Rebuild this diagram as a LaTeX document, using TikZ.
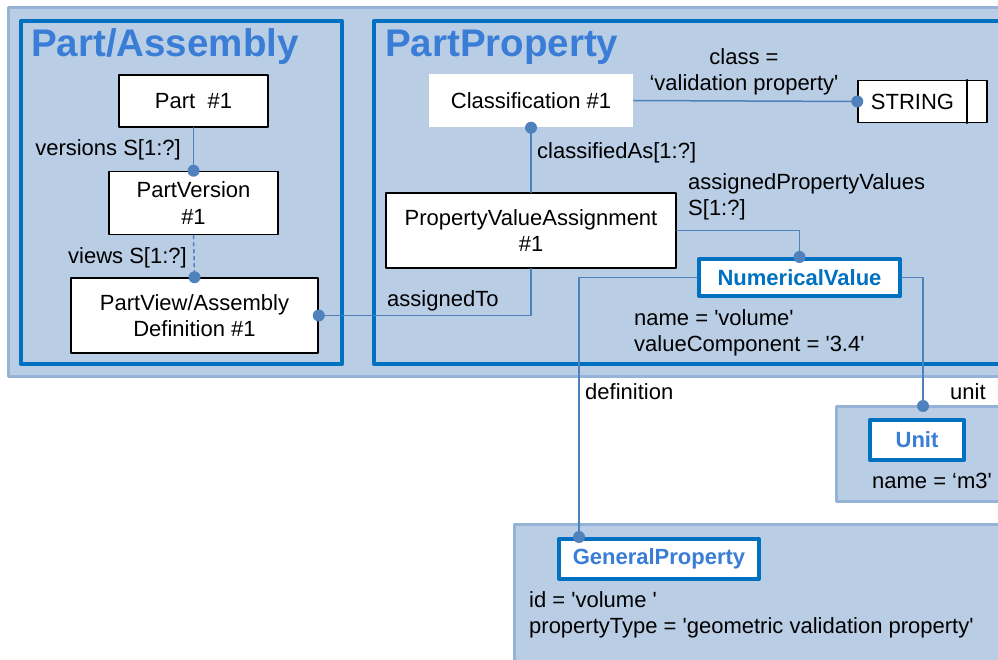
\documentclass[tikz,border=0pt]{standalone}
\usepackage{fontspec}
\setmainfont{Liberation Sans}
\definecolor{frameblue}{RGB}{0,112,192}
\definecolor{titleblue}{RGB}{58,125,214}
\definecolor{linkblue}{RGB}{79,129,189}
\definecolor{grpfill}{RGB}{185,205,229}
\definecolor{grpedge}{RGB}{149,179,215}
\tikzset{
  txt/.style={font=\fontsize{22}{26.5}\selectfont},
  grpframe/.style={draw=grpedge, fill=grpfill, line width=3pt},
  secframe/.style={draw=frameblue, line width=4pt},
  titletxt/.style={font=\fontsize{38.5}{40}\selectfont\bfseries, text=titleblue, inner sep=0pt},
  clsbox/.style={txt, draw=black, fill=white, line width=1.5pt, inner sep=0pt, align=center},
  entbox/.style={font=\fontsize{22}{26.5}\selectfont\bfseries, draw=frameblue, fill=white, line width=4pt, inner sep=0pt},
  lnk/.style={draw=linkblue, line width=1.5pt},
  lbl/.style={txt, inner sep=0pt, align=left},
}
\begin{document}
\begin{tikzpicture}[x=1pt,y=-1pt,line cap=round,line join=round]
  \useasboundingbox (0,0) rectangle (998,660);
  \clip (0,0) rectangle (998,660);
  \draw[grpframe] (8,8) rectangle (1010,376);
  \draw[secframe] (21,21) rectangle (342,364);
  \draw[secframe] (374,21) rectangle (1010,364);
  \draw[grpframe] (836,406) rectangle (1010,501);
  \draw[grpframe] (514,524) rectangle (1010,680);
  \node[titletxt, anchor=base west] (tpa) at (31,57) {Part/Assembly};
  \node[titletxt, anchor=base west] (tpp) at (385,57) {PartProperty};
  \node[clsbox, minimum width=149, minimum height=52] (part) at (193.5,101) {Part~~\#1};
  \node[clsbox, minimum width=169, minimum height=63] (pver) at (193.5,203) {PartVersion\\\#1};
  \node[clsbox, minimum width=247, minimum height=75] (pview) at (194.5,315.5) {PartView/Assembly\\Definition \#1};
  \node[clsbox, draw=none, minimum width=204, minimum height=53] (clsf) at (531,100.5) {Classification \#1};
  \node[clsbox, minimum width=290, minimum height=75] (pva) at (531,230.5) {PropertyValueAssignment\\\#1};
  \node[clsbox, minimum width=129, minimum height=42] (str) at (922.5,101.5) {STRING\hspace{20pt}};
  \draw[line width=1.5pt] ([xshift=-21pt]str.north east) -- ([xshift=-21pt]str.south east);
  \node[entbox, text=frameblue, minimum width=201, minimum height=37] (nval) at (799.5,277.5) {NumericalValue};
  \node[entbox, text=titleblue, minimum width=94, minimum height=40] (unit) at (917,440) {Unit};
  \node[entbox, text=titleblue, minimum width=200, minimum height=40] (gprop) at (659,559) {GeneralProperty};
  \coordinate (unitin) at (923,406);
  \coordinate (gpin) at ([xshift=-80pt]gprop.north);
  \draw[lnk] (part.south) -- (pver.north);
  \draw[lnk, line cap=butt, dash pattern=on 4pt off 3pt] (pver.south) -- (pview.north);
  \draw[lnk] (pview.east) -| (pva.south);
  \draw[lnk] (clsf.south) -- (pva.north);
  \draw[lnk] (clsf.east) -- (str.west);
  \draw[lnk] (pva.east) -| (nval.north);
  \draw[lnk] (nval.west) -| (gpin);
  \draw[lnk] (nval.east) -| (unitin);
  \foreach \p in {pver.north, pview.north, pview.east, clsf.south, str.west, nval.north, unitin, gpin}
    \fill[linkblue] (\p) circle (6pt);
  \node[lbl, anchor=east] (lver) at (181,150) {versions S[1:?]};
  \node[lbl, anchor=east] (lviews) at (187,258) {views S[1:?]};
  \node[lbl, anchor=west] (lassto) at (387,301) {assignedTo};
  \node[lbl, anchor=west] (lclsas) at (537,153) {classifiedAs[1:?]};
  \node[lbl, align=center] (lclass) at (744,72) {class =\\‘validation property\textquotesingle};
  \node[lbl, anchor=west] (lapv) at (688,197) {assignedPropertyValues\\S[1:?]};
  \node[lbl, anchor=west] (lnv) at (634,333) {name = \textquotesingle volume\textquotesingle\\valueComponent = \textquotesingle 3.4\textquotesingle};
  \node[lbl, anchor=west] (ldef) at (585,392) {definition};
  \node[lbl, anchor=west] (lunit) at (950,392) {unit};
  \node[lbl] (lm3) at (932,481) {name = ‘m3\textquotesingle};
  \node[lbl, anchor=west] (lgp) at (529,615) {id = \textquotesingle volume \textquotesingle\\propertyType = \textquotesingle geometric validation property\textquotesingle};
\end{tikzpicture}
\end{document}
